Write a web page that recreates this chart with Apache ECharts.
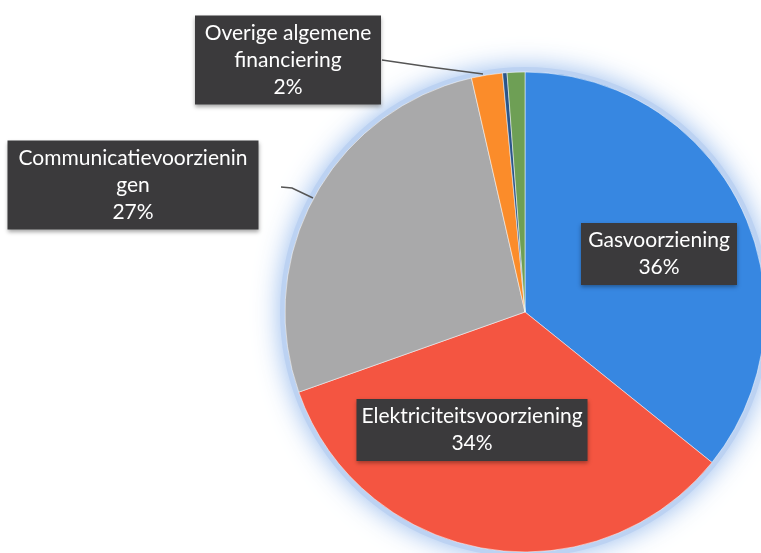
<!DOCTYPE html>
<html>
<head>
<meta charset="utf-8">
<script src="https://cdn.jsdelivr.net/npm/echarts@6/dist/echarts.min.js"></script>
<style>
  html, body { margin: 0; padding: 0; background: #fff; }
  #chart { width: 761px; height: 553px; }
</style>
</head>
<body>
<div id="chart"></div>
<script>
  // slices, clockwise from 12 o'clock
  var names = ['Gasvoorziening', 'Elektriciteitsvoorziening', 'Communicatievoorzieningen',
    'Overige algemene financiering', 'Overig A', 'Overig B']
  var values = [36, 34, 27, 2.1, 0.3, 1.2]
  var labelText = ['Gasvoorziening', 'Elektriciteitsvoorziening', 'Communicatievoorzienin\ngen',
    'Overige algemene\nfinanciering', '', '']
  var colors = ['#3787e1', '#f45541', '#a9a9aa', '#fb8c2a', '#2b5588', '#6e9f55']

  // label boxes: centre x, centre y, width
  var boxes = [[659, 254, 156], [472, 430, 231], [133, 185, 251], [288, 60, 186]]
  var leaders = {
    2: [[313, 198], [292, 188], [281, 187]],
    3: [[483, 74], [430, 67], [382, 60]]
  }

  var chart = echarts.init(document.getElementById('chart'))

  var data = values.map(function (v, i) {
    var item = {name: names[i], value: v, itemStyle: {color: colors[i]}}
    if (i < 4) {
      item.label = {
        show: true,
        position: i < 2 ? 'inside' : 'outside',
        width: boxes[i][2]
      }
      item.labelLine = {show: i >= 2}
    } else {
      item.label = {show: false}
      item.labelLine = {show: false}
    }
    return item
  })

  chart.setOption({
    backgroundColor: '#fff',
    animation: false,
    series: [
      {
        // soft blue glow behind the pie
        type: 'pie',
        silent: true,
        center: [525, 312],
        radius: 245,
        label: {show: false},
        labelLine: {show: false},
        itemStyle: {
          color: 'rgba(188,210,242,1)',
          shadowBlur: 26,
          shadowColor: 'rgba(140,180,235,0.9)'
        },
        data: [{value: 1, name: ''}],
        z: 1
      },
      {
        type: 'pie',
        center: [525, 312],
        radius: 240,
        startAngle: 90,
        clockwise: true,
        avoidLabelOverlap: false,
        z: 2,
        itemStyle: {
          borderColor: 'rgba(255,255,255,0.5)',
          borderWidth: 1
        },
        label: {
          formatter: function (p) {
            return labelText[p.dataIndex] + '\n' + Math.round(p.percent) + '%'
          },
          fontFamily: 'Lato',
          fontSize: 21,
          lineHeight: 27,
          color: '#fff',
          align: 'center',
          backgroundColor: '#3b3a3c',
          padding: [4, 0],
          shadowBlur: 4,
          shadowOffsetY: 2,
          shadowColor: 'rgba(0,0,0,0.35)',
          overflow: 'none'
        },
        labelLine: {
          lineStyle: {color: '#555', width: 1.5}
        },
        labelLayout: function (p) {
          var b = boxes[p.dataIndex]
          if (!b) return {}
          var res = {x: b[0], y: b[1], align: 'center', verticalAlign: 'middle'}
          if (leaders[p.dataIndex]) res.labelLinePoints = leaders[p.dataIndex]
          return res
        },
        data: data
      }
    ]
  })
</script>
</body>
</html>
